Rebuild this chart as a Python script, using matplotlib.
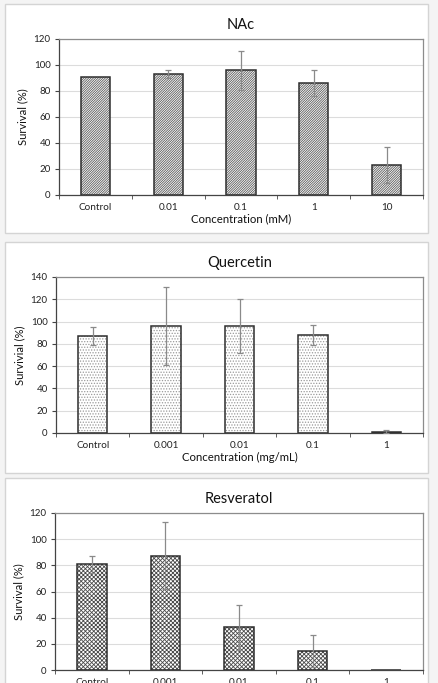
import matplotlib
matplotlib.use("Agg")
import matplotlib.pyplot as plt
from matplotlib.patches import Rectangle
import numpy as np

plt.rcParams["font.family"] = ["Lato", "DejaVu Sans"]
plt.rcParams["hatch.linewidth"] = 0.6

W, H = 438, 683

# ── data ───────────────────────────────────────────────────────────────────
nac_labels = ["Control", "0.01", "0.1", "1", "10"]
nac_values = [91, 93, 96, 86, 23]
nac_errors = [0, 3, 15, 10, 14]

que_labels = ["Control", "0.001", "0.01", "0.1", "1"]
que_values = [87, 96, 96, 88, 1.2]
que_errors = [8, 35, 24, 9, 1.5]

res_labels = ["Control", "0.001", "0.01", "0.1", "1"]
res_values = [81, 87.5, 32.5, 14.5, 0]
res_errors = [6.5, 25.5, 17.5, 12.5, 0]

panels = [
    dict(title="NAc", labels=nac_labels, values=nac_values, errors=nac_errors,
         ylabel="Survival (%)", xlabel="Concentration (mM)", ymax=120,
         hatch="/" * 14, hcol="#5a5a5a", box=(5, 4, 428, 233), ax=(59, 39, 423, 195)),
    dict(title="Quercetin", labels=que_labels, values=que_values, errors=que_errors,
         ylabel="Survivial (%)", xlabel="Concentration (mg/mL)", ymax=140,
         hatch="......", hcol="#9a9a9a", box=(5, 242, 428, 473), ax=(56, 277, 423, 433)),
    # x label of the last panel falls below the cropped picture
    dict(title="Resveratol", labels=res_labels, values=res_values, errors=res_errors,
         ylabel="Survival (%)", xlabel=None, ymax=120,
         hatch="x" * 8, hcol="#4a4a4a", box=(5, 478, 428, 700), ax=(55, 513, 423, 670)),
]

fig = plt.figure(figsize=(W / 100, H / 100), dpi=100)
fig.patch.set_facecolor("#f4f4f4")


def fx(x):
    return x / W


def fy(y):
    return (H - y) / H


for p in panels:
    x0, y0, x1, y1 = p["box"]
    fig.patches.append(Rectangle((fx(x0), fy(y1)), fx(x1) - fx(x0), fy(y0) - fy(y1),
                                 transform=fig.transFigure, facecolor="white",
                                 edgecolor="#d4d4d4", linewidth=1, zorder=-5))

    ax0, ay0, ax1, ay1 = p["ax"]
    ax = fig.add_axes([fx(ax0), fy(ay1), fx(ax1) - fx(ax0), fy(ay0) - fy(ay1)])
    ax.set_zorder(2)
    n = len(p["labels"])
    xs = np.arange(n)
    # hatch layer (its own colour), then the outline on top
    ax.bar(xs, p["values"], width=0.4, color="white", edgecolor=p["hcol"],
           hatch=p["hatch"], linewidth=0, zorder=2)
    ax.bar(xs, p["values"], width=0.4, fill=False, edgecolor="#2e2e2e",
           linewidth=1.1, zorder=2.5)
    errs = np.array(p["errors"], dtype=float)
    mask = errs > 0
    ax.errorbar(xs[mask], np.array(p["values"])[mask], yerr=errs[mask], fmt="none",
                ecolor="#8a8a8a", elinewidth=0.9, capsize=2.5, capthick=0.9, zorder=3)

    ax.set_xlim(-0.5, n - 0.5)
    ax.set_ylim(0, p["ymax"])
    ax.set_yticks(np.arange(0, p["ymax"] + 1, 20))
    ax.yaxis.grid(True, color="#dcdcdc", linewidth=0.8, zorder=0)
    ax.set_axisbelow(True)
    ax.set_xticks(xs)
    ax.set_xticklabels(p["labels"])
    ax.set_xticks(np.arange(-0.5, n, 1), minor=True)
    ax.tick_params(axis="x", which="major", length=0, pad=6, labelsize=7.2, colors="#222222")
    ax.tick_params(axis="x", which="minor", length=3, direction="out", color="#444444")
    ax.tick_params(axis="y", length=3, direction="out", labelsize=7.0, colors="#222222",
                   color="#444444", pad=3)
    for s in ["top", "right"]:
        ax.spines[s].set_color("#8c8c8c")
        ax.spines[s].set_linewidth(0.9)
    for s in ["left", "bottom"]:
        ax.spines[s].set_color("#444444")
        ax.spines[s].set_linewidth(0.9)

    ax.set_title(p["title"], fontsize=10.5, pad=7, color="#111111")
    ax.set_ylabel(p["ylabel"], fontsize=8.0, labelpad=4, color="#111111")
    if p["xlabel"]:
        ax.set_xlabel(p["xlabel"], fontsize=8.2, labelpad=1, color="#111111")

fig.savefig("out.png", dpi=100, facecolor=fig.get_facecolor())
